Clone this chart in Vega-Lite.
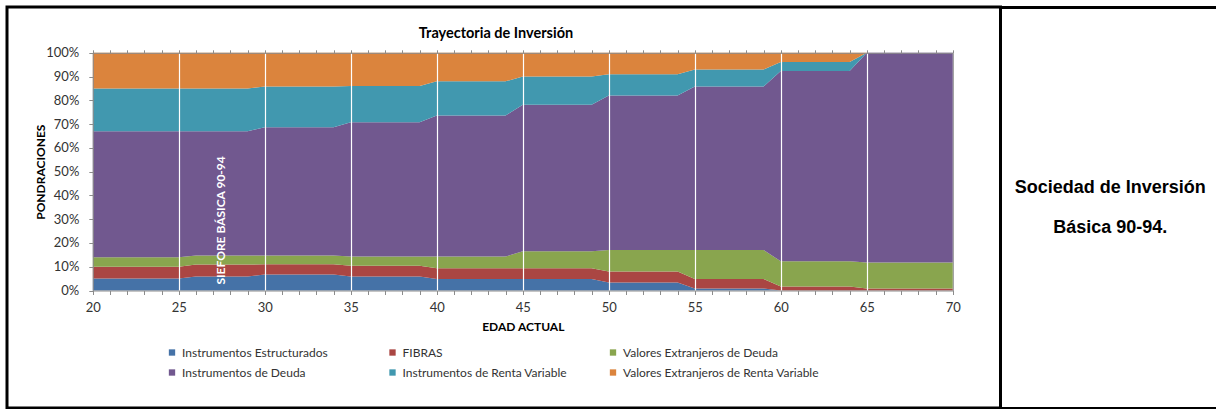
{
  "$schema": "https://vega.github.io/schema/vega-lite/v6.json",
  "background": "white",
  "padding": {"left": 5, "top": 5, "right": 0, "bottom": 0},
  "spacing": 0,
  "bounds": "flush",
  "config": {"view": {"stroke": null}},
  "hconcat": [
    {
      "width": 993.5,
      "height": 401,
      "view": {"stroke": "#000000", "strokeWidth": 3},
      "resolve": {"axis": {"x": "independent", "y": "independent"}},
      "layer": [
        {
          "data": {
            "values": [
              {"edad": 20, "ie": 5, "fi": 5, "vd": 4, "id": 53, "rv": 18, "vr": 15},
              {"edad": 21, "ie": 5, "fi": 5, "vd": 4, "id": 53, "rv": 18, "vr": 15},
              {"edad": 22, "ie": 5, "fi": 5, "vd": 4, "id": 53, "rv": 18, "vr": 15},
              {"edad": 23, "ie": 5, "fi": 5, "vd": 4, "id": 53, "rv": 18, "vr": 15},
              {"edad": 24, "ie": 5, "fi": 5, "vd": 4, "id": 53, "rv": 18, "vr": 15},
              {"edad": 25, "ie": 5, "fi": 5, "vd": 4, "id": 53, "rv": 18, "vr": 15},
              {"edad": 26, "ie": 5.9, "fi": 5, "vd": 3.8, "id": 52.3, "rv": 18, "vr": 15},
              {"edad": 27, "ie": 5.9, "fi": 5, "vd": 3.8, "id": 52.3, "rv": 18, "vr": 15},
              {"edad": 28, "ie": 5.9, "fi": 5, "vd": 3.8, "id": 52.3, "rv": 18, "vr": 15},
              {"edad": 29, "ie": 5.9, "fi": 5, "vd": 3.8, "id": 52.3, "rv": 18, "vr": 15},
              {"edad": 30, "ie": 6.7, "fi": 4.3, "vd": 3.7, "id": 54, "rv": 17.1, "vr": 14.2},
              {"edad": 31, "ie": 6.7, "fi": 4.3, "vd": 3.7, "id": 54, "rv": 17.1, "vr": 14.2},
              {"edad": 32, "ie": 6.7, "fi": 4.3, "vd": 3.7, "id": 54, "rv": 17.1, "vr": 14.2},
              {"edad": 33, "ie": 6.7, "fi": 4.3, "vd": 3.7, "id": 54, "rv": 17.1, "vr": 14.2},
              {"edad": 34, "ie": 6.7, "fi": 4.3, "vd": 3.7, "id": 54, "rv": 17.1, "vr": 14.2},
              {"edad": 35, "ie": 5.9, "fi": 4.5, "vd": 3.9, "id": 56.5, "rv": 15.2, "vr": 14},
              {"edad": 36, "ie": 5.9, "fi": 4.5, "vd": 3.9, "id": 56.5, "rv": 15.2, "vr": 14},
              {"edad": 37, "ie": 5.9, "fi": 4.5, "vd": 3.9, "id": 56.5, "rv": 15.2, "vr": 14},
              {"edad": 38, "ie": 5.9, "fi": 4.5, "vd": 3.9, "id": 56.5, "rv": 15.2, "vr": 14},
              {"edad": 39, "ie": 5.9, "fi": 4.5, "vd": 3.9, "id": 56.5, "rv": 15.2, "vr": 14},
              {"edad": 40, "ie": 4.8, "fi": 4.6, "vd": 4.9, "id": 59.3, "rv": 14.4, "vr": 12},
              {"edad": 41, "ie": 4.8, "fi": 4.6, "vd": 4.9, "id": 59.3, "rv": 14.4, "vr": 12},
              {"edad": 42, "ie": 4.8, "fi": 4.6, "vd": 4.9, "id": 59.3, "rv": 14.4, "vr": 12},
              {"edad": 43, "ie": 4.8, "fi": 4.6, "vd": 4.9, "id": 59.3, "rv": 14.4, "vr": 12},
              {"edad": 44, "ie": 4.8, "fi": 4.6, "vd": 4.9, "id": 59.3, "rv": 14.4, "vr": 12},
              {"edad": 45, "ie": 4.8, "fi": 4.6, "vd": 7.1, "id": 61.6, "rv": 11.9, "vr": 10},
              {"edad": 46, "ie": 4.8, "fi": 4.6, "vd": 7.1, "id": 61.6, "rv": 11.9, "vr": 10},
              {"edad": 47, "ie": 4.8, "fi": 4.6, "vd": 7.1, "id": 61.6, "rv": 11.9, "vr": 10},
              {"edad": 48, "ie": 4.8, "fi": 4.6, "vd": 7.1, "id": 61.6, "rv": 11.9, "vr": 10},
              {"edad": 49, "ie": 4.8, "fi": 4.6, "vd": 7.1, "id": 61.6, "rv": 11.9, "vr": 10},
              {"edad": 50, "ie": 3.4, "fi": 4.6, "vd": 9, "id": 65, "rv": 9, "vr": 9},
              {"edad": 51, "ie": 3.4, "fi": 4.6, "vd": 9, "id": 65, "rv": 9, "vr": 9},
              {"edad": 52, "ie": 3.4, "fi": 4.6, "vd": 9, "id": 65, "rv": 9, "vr": 9},
              {"edad": 53, "ie": 3.4, "fi": 4.6, "vd": 9, "id": 65, "rv": 9, "vr": 9},
              {"edad": 54, "ie": 3.4, "fi": 4.6, "vd": 9, "id": 65, "rv": 9, "vr": 9},
              {"edad": 55, "ie": 0.8, "fi": 4, "vd": 12.2, "id": 68.8, "rv": 7.2, "vr": 7},
              {"edad": 56, "ie": 0.8, "fi": 4, "vd": 12.2, "id": 68.8, "rv": 7.2, "vr": 7},
              {"edad": 57, "ie": 0.8, "fi": 4, "vd": 12.2, "id": 68.8, "rv": 7.2, "vr": 7},
              {"edad": 58, "ie": 0.8, "fi": 4, "vd": 12.2, "id": 68.8, "rv": 7.2, "vr": 7},
              {"edad": 59, "ie": 0.8, "fi": 4, "vd": 12.2, "id": 68.8, "rv": 7.2, "vr": 7},
              {"edad": 60, "ie": 0, "fi": 1.7, "vd": 10.6, "id": 80, "rv": 3.8, "vr": 3.9},
              {"edad": 61, "ie": 0, "fi": 1.7, "vd": 10.6, "id": 80, "rv": 3.8, "vr": 3.9},
              {"edad": 62, "ie": 0, "fi": 1.7, "vd": 10.6, "id": 80, "rv": 3.8, "vr": 3.9},
              {"edad": 63, "ie": 0, "fi": 1.7, "vd": 10.6, "id": 80, "rv": 3.8, "vr": 3.9},
              {"edad": 64, "ie": 0, "fi": 1.7, "vd": 10.6, "id": 80, "rv": 3.8, "vr": 3.9},
              {"edad": 65, "ie": 0, "fi": 0.8, "vd": 11, "id": 88.2, "rv": 0, "vr": 0},
              {"edad": 66, "ie": 0, "fi": 0.8, "vd": 11, "id": 88.2, "rv": 0, "vr": 0},
              {"edad": 67, "ie": 0, "fi": 0.8, "vd": 11, "id": 88.2, "rv": 0, "vr": 0},
              {"edad": 68, "ie": 0, "fi": 0.8, "vd": 11, "id": 88.2, "rv": 0, "vr": 0},
              {"edad": 69, "ie": 0, "fi": 0.8, "vd": 11, "id": 88.2, "rv": 0, "vr": 0},
              {"edad": 70, "ie": 0, "fi": 0.8, "vd": 11, "id": 88.2, "rv": 0, "vr": 0}
            ]
          },
          "transform": [
            {"fold": ["ie", "fi", "vd", "id", "rv", "vr"], "as": ["clave", "valor"]},
            {
              "lookup": "clave",
              "from": {
                "data": {
                  "values": [
                    {"clave": "ie", "serie": "Instrumentos Estructurados", "orden": 1},
                    {"clave": "fi", "serie": "FIBRAS", "orden": 2},
                    {"clave": "vd", "serie": "Valores Extranjeros de Deuda", "orden": 3},
                    {"clave": "id", "serie": "Instrumentos de Deuda", "orden": 4},
                    {"clave": "rv", "serie": "Instrumentos de Renta Variable", "orden": 5},
                    {"clave": "vr", "serie": "Valores Extranjeros de Renta Variable", "orden": 6}
                  ]
                },
                "key": "clave",
                "fields": ["serie", "orden"]
              }
            }
          ],
          "mark": {"type": "area", "opacity": 1, "interpolate": "linear"},
          "encoding": {
            "x": {
              "field": "edad",
              "type": "quantitative",
              "scale": {"domain": [20, 70], "range": [85.8, 945.8], "nice": false, "zero": false},
              "axis": {
                "orient": "bottom",
                "offset": -117.5,
                "values": [20,21,22,23,24,25,26,27,28,29,30,31,32,33,34,35,36,37,38,39,40,41,42,43,44,45,46,47,48,49,50,51,52,53,54,55,56,57,58,59,60,61,62,63,64,65,66,67,68,69,70],
                "labelExpr": "datum.value % 5 == 0 ? datum.label : ''",
                "labelOverlap": false,
                "labelFlush": false,
                "grid": false,
                "domainColor": "#8c8c8c",
                "tickColor": "#8c8c8c",
                "tickSize": 4,
                "labelFont": "Lato",
                "labelFontSize": 13,
                "labelColor": "#333333",
                "labelPadding": 7,
                "title": "EDAD ACTUAL",
                "titleFont": "Lato",
                "titleFontSize": 12,
                "titleFontWeight": "bold",
                "titleColor": "#000000",
                "titlePadding": 7,
                "zindex": 1
              }
            },
            "y": {
              "field": "valor",
              "type": "quantitative",
              "stack": "zero",
              "scale": {"domain": [0, 100], "range": [283.5, 45.8], "nice": false, "zero": true},
              "axis": {
                "orient": "left",
                "offset": -85.8,
                "values": [0, 10, 20, 30, 40, 50, 60, 70, 80, 90, 100],
                "labelExpr": "datum.value + '%'",
                "grid": false,
                "domainColor": "#8c8c8c",
                "tickColor": "#8c8c8c",
                "tickSize": 4,
                "labelFont": "Lato",
                "labelFontSize": 13,
                "labelColor": "#333333",
                "labelPadding": 10,
                "title": "PONDRACIONES",
                "titleFont": "Lato",
                "titleFontSize": 12,
                "titleFontWeight": "bold",
                "titleColor": "#000000",
                "titlePadding": -2,
                "zindex": 1
              }
            },
            "color": {
              "field": "serie",
              "type": "nominal",
              "scale": {
                "domain": ["Instrumentos Estructurados", "FIBRAS", "Valores Extranjeros de Deuda", "Instrumentos de Deuda", "Instrumentos de Renta Variable", "Valores Extranjeros de Renta Variable"],
                "range": ["#4572A7", "#AA4643", "#89A54E", "#71588F", "#4198AF", "#DB843D"]
              },
              "legend": {
                "orient": "none",
                "legendX": 159,
                "legendY": 339.5,
                "direction": "horizontal",
                "columns": 3,
                "gridAlign": "all",
                "columnPadding": 8.5,
                "rowPadding": 8,
                "symbolType": "square",
                "symbolSize": 40,
                "symbolStrokeWidth": 0,
                "labelFont": "Lato",
                "labelFontSize": 12,
                "labelColor": "#333333",
                "labelOffset": 4,
                "labelLimit": 400,
                "title": null
              }
            },
            "order": {"field": "orden", "type": "quantitative", "sort": "ascending"}
          }
        },
        {
          "data": {"values": [{}]},
          "mark": {"type": "text", "angle": 270, "align": "left", "baseline": "middle", "font": "Lato", "fontSize": 12, "fontWeight": "bold", "color": "#ffffff"},
          "encoding": {
            "text": {"value": "SIEFORE BÁSICA 90-94"},
            "x": {
              "datum": 27.48,
              "type": "quantitative",
              "scale": {"domain": [20, 70], "range": [85.8, 945.8], "nice": false, "zero": false},
              "axis": {
                "orient": "top",
                "offset": -45.8,
                "values": [20,21,22,23,24,25,26,27,28,29,30,31,32,33,34,35,36,37,38,39,40,41,42,43,44,45,46,47,48,49,50,51,52,53,54,55,56,57,58,59,60,61,62,63,64,65,66,67,68,69,70],
                "labels": false,
                "ticks": true,
                "tickSize": 3,
                "tickColor": "#8c8c8c",
                "domainColor": "#8c8c8c",
                "grid": true,
                "gridColor": {"condition": {"test": "datum.value % 5 != 0 || datum.value == 20 || datum.value == 70", "value": "transparent"}, "value": "#ffffff"},
                "gridWidth": 1.2,
                "gridOpacity": 1,
                "title": "Trayectoria de Inversión",
                "titleFont": "Lato",
                "titleFontSize": 14.5,
                "titleFontWeight": "bold",
                "titleColor": "#000000",
                "titlePadding": 9,
                "titleX": 488.5,
                "zindex": 1
              }
            },
            "y": {
              "datum": 2.5,
              "type": "quantitative",
              "scale": {"domain": [0, 100], "range": [283.5, 45.8], "nice": false, "zero": true},
              "axis": {
                "orient": "right",
                "offset": -47.7,
                "labels": false,
                "ticks": false,
                "grid": false,
                "domainColor": "#8c8c8c",
                "title": null,
                "zindex": 1
              }
            }
          }
        }
      ]
    },
    {
      "width": 214.5,
      "height": 401,
      "view": {"stroke": null},
      "resolve": {"axis": {"x": "independent"}},
      "layer": [
        {
          "data": {"values": [{"t": "Sociedad de Inversión\nBásica 90-94."}]},
          "mark": {"type": "text", "font": "Liberation Sans", "fontSize": 18, "fontWeight": "bold", "lineBreak": "\n", "lineHeight": 40, "align": "center", "baseline": "middle", "dx": 2, "dy": -20, "color": "#000000"},
          "encoding": {
            "text": {"field": "t", "type": "nominal"},
            "x": {
              "datum": 0.5,
              "type": "quantitative",
              "scale": {"domain": [0, 1], "nice": false, "zero": false},
              "axis": {"orient": "top", "domainColor": "#000000", "domainWidth": 3, "domainCap": "butt", "ticks": false, "labels": false, "grid": false, "title": null}
            },
            "y": {
              "datum": 0.5,
              "type": "quantitative",
              "scale": {"domain": [0, 1], "nice": false, "zero": false},
              "axis": null
            }
          }
        },
        {
          "data": {"values": [{}]},
          "mark": {"type": "text"},
          "encoding": {
            "text": {"value": ""},
            "x": {
              "datum": 0.5,
              "type": "quantitative",
              "axis": {"orient": "bottom", "domainColor": "#000000", "domainWidth": 3, "domainCap": "butt", "ticks": false, "labels": false, "grid": false, "title": null}
            },
            "y": {"datum": 0.5, "type": "quantitative", "axis": null}
          }
        }
      ]
    }
  ]
}
